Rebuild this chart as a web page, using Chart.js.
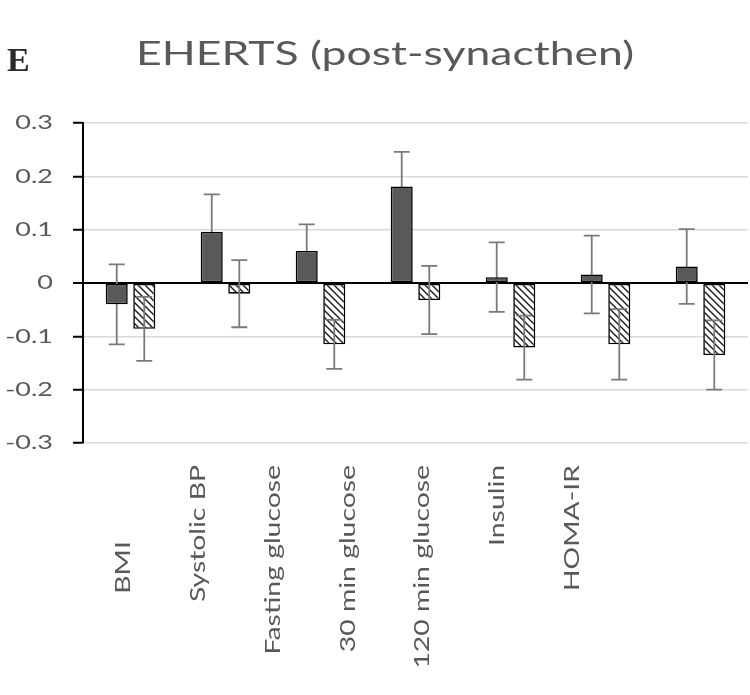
<!DOCTYPE html>
<html>
<head>
<meta charset="utf-8">
<script src="https://cdn.jsdelivr.net/npm/chart.js@4/dist/chart.umd.min.js"></script>
<style>
  html, body { margin: 0; padding: 0; background: #ffffff; }
  #wrap { position: relative; width: 750px; height: 695px; }
</style>
</head>
<body>
<div id="wrap"><canvas id="c" width="750" height="695"></canvas></div>
<script>
// ---- data ----
const categories = ['BMI', 'Systolic BP', 'Fasting glucose', '30 min glucose', '120 min glucose', 'Insulin', 'HOMA-IR'];
const darkValues = [-0.040, 0.096, 0.060, 0.181, 0.011, 0.016, 0.031];
const darkErrors = [0.075, 0.070, 0.050, 0.065, 0.065, 0.073, 0.070];
const hatchValues = [-0.086, -0.020, -0.115, -0.032, -0.121, -0.115, -0.135];
const hatchErrors = [0.060, 0.063, 0.046, 0.064, 0.060, 0.066, 0.065];
const yTickValues = [-0.3, -0.2, -0.1, 0, 0.1, 0.2, 0.3];
const titleText = 'EHERTS (post-synacthen)';
const panelLetter = 'E';

// ---- wide text rendering (reference text is horizontally expanded) ----
const canvas = document.getElementById('c');
const ctx = canvas.getContext('2d');
const SX = 1.35;
const origFill = ctx.fillText.bind(ctx);
const origMeasure = ctx.measureText.bind(ctx);
ctx.fillText = function (t, x, y) {
  ctx.save();
  ctx.translate(x, y);
  ctx.scale(SX, 1);
  origFill(t, 0, 0);
  ctx.restore();
};
ctx.measureText = function (t) {
  const m = origMeasure(t);
  return {
    width: m.width * SX,
    actualBoundingBoxAscent: m.actualBoundingBoxAscent,
    actualBoundingBoxDescent: m.actualBoundingBoxDescent,
    actualBoundingBoxLeft: m.actualBoundingBoxLeft * SX,
    actualBoundingBoxRight: m.actualBoundingBoxRight * SX,
    fontBoundingBoxAscent: m.fontBoundingBoxAscent,
    fontBoundingBoxDescent: m.fontBoundingBoxDescent
  };
};

// ---- hatch pattern ----
function makeHatch() {
  const p = document.createElement('canvas');
  const s = 7;
  p.width = s; p.height = s;
  const g = p.getContext('2d');
  g.fillStyle = '#ffffff';
  g.fillRect(0, 0, s, s);
  g.strokeStyle = '#1a1a1a';
  g.lineWidth = 1.4;
  g.beginPath();
  g.moveTo(-1, -1); g.lineTo(s + 1, s + 1);
  g.moveTo(-1, s - 1); g.lineTo(1, s + 1);
  g.moveTo(s - 1, -1); g.lineTo(s + 1, 1);
  g.stroke();
  return ctx.createPattern(p, 'repeat');
}
const hatch = makeHatch();

const TEXT_GREY = '#595959';
const FONT = 'Lato';
const errs = [darkErrors, hatchErrors];

function drawErrors(chart, di) {
  const c = chart.ctx;
  const ys = chart.scales.y;
  const ds = chart.data.datasets[di];
  const meta = chart.getDatasetMeta(di);
  c.save();
  c.strokeStyle = '#7a7a7a';
  c.lineWidth = 1.8;
  meta.data.forEach((el, i) => {
    const v = ds.data[i];
    const e = errs[di][i];
    const yTop = ys.getPixelForValue(v + e);
    const yBot = ys.getPixelForValue(v - e);
    const x = el.x;
    const cap = 8;
    c.beginPath();
    c.moveTo(x, yTop); c.lineTo(x, yBot);
    c.moveTo(x - cap, yTop); c.lineTo(x + cap, yTop);
    c.moveTo(x - cap, yBot); c.lineTo(x + cap, yBot);
    c.stroke();
  });
  c.restore();
}

const errorBars = {
  id: 'errorBars',
  beforeDatasetsDraw(chart) { drawErrors(chart, 0); },
  afterDatasetsDraw(chart) { drawErrors(chart, 1); }
};

const headings = {
  id: 'headings',
  afterDraw(chart) {
    const c = chart.ctx;
    c.save();
    c.fillStyle = TEXT_GREY;
    c.font = '33px ' + FONT;
    c.textAlign = 'center';
    c.textBaseline = 'alphabetic';
    c.fillText(titleText, 385, 65);
    c.fillStyle = '#2a2a2a';
    c.font = 'bold 34px "Liberation Serif"';
    c.textAlign = 'left';
    origFill(panelLetter, 7, 71);
    c.restore();
  }
};

new Chart(ctx, {
  type: 'bar',
  data: {
    labels: categories,
    datasets: [
      {
        label: 'Group 1',
        data: darkValues,
        backgroundColor: '#595959',
        borderColor: '#000000',
        borderWidth: 1.6,
        borderSkipped: false,
        categoryPercentage: 0.58,
        barPercentage: 0.8
      },
      {
        label: 'Group 2',
        data: hatchValues,
        backgroundColor: hatch,
        borderColor: '#000000',
        borderWidth: 1.6,
        borderSkipped: false,
        categoryPercentage: 0.58,
        barPercentage: 0.8
      }
    ]
  },
  options: {
    responsive: false,
    animation: false,
    devicePixelRatio: 1,
    layout: { padding: { top: 123, left: 5, right: 2, bottom: 0 } },
    plugins: {
      legend: { display: false },
      tooltip: { enabled: false },
      title: { display: false }
    },
    scales: {
      x: {
        type: 'category',
        position: 'bottom',
        grid: { display: false, drawTicks: false },
        border: { display: false },
        ticks: { display: false },
        afterFit(scale) { scale.height = 0; }
      },
      xl: {
        type: 'linear',
        position: 'bottom',
        offset: false,
        bounds: 'data',
        min: -0.54,
        max: 8.35,
        grid: { display: false, drawTicks: false, offset: false },
        border: { display: false },
        afterBuildTicks(scale) {
          scale.ticks = categories.map((c, i) => ({ value: i }));
        },
        ticks: {
          autoSkip: false,
          minRotation: 90,
          maxRotation: 90,
          padding: 22,
          color: TEXT_GREY,
          font: { family: FONT, size: 21 },
          callback(v) {
            const name = categories[Math.round(v)];
            return name === 'BMI' ? name + '\u00a0'.repeat(10) + '\u2009' : name;
          }
        },
        afterFit(scale) { scale.height = 252; }
      },
      y: {
        min: -0.3,
        max: 0.3,
        afterBuildTicks(scale) {
          scale.ticks = yTickValues.map(v => ({ value: v }));
        },
        grid: {
          color: (c) => (c.tick && Math.abs(c.tick.value) < 1e-9 ? '#000000' : '#d9d9d9'),
          lineWidth: (c) => (c.tick && Math.abs(c.tick.value) < 1e-9 ? 2 : 1.5),
          tickColor: '#000000',
          tickLength: 10,
          tickWidth: 2,
          drawTicks: true
        },
        border: { display: true, color: '#000000', width: 2 },
        ticks: {
          padding: 20,
          color: TEXT_GREY,
          font: { family: FONT, size: 20 },
          callback(v) { return String(Math.round(v * 10) / 10); }
        },
        afterFit(scale) { scale.width = 78; }
      }
    }
  },
  plugins: [errorBars, headings]
});
</script>
</body>
</html>
